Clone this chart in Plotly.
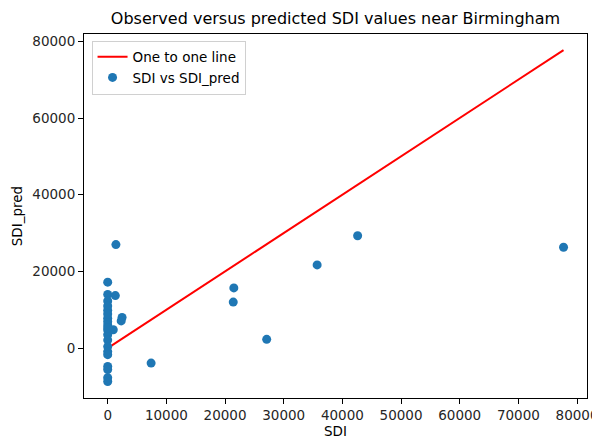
import plotly.graph_objects as go

# Observed SDI values
sdi = [1400, 0, 0, 1300, 0, 0, 0, 2450, 2300, 0, 0, 950, 0, 0, 0, 0, 0, 0,
       0, 0, 0, 0, 7400, 21500, 21400, 27100, 35700, 42600, 77700,
       0, 0, 0]
# Predicted SDI values
sdi_pred = [27000, 17200, 14000, 13700, 12300, 9900, 7800, 8000, 7100, 6900, 6000, 4800, 4700, 3500, 2100, 400, -900, -1700,
            -4800, -5600, -7700, -8700, -3900, 15700, 12000, 2300, 21700, 29300, 26300,
            11000, 8900, 5300]

line_x = [min(sdi), max(sdi)]
line_y = [min(sdi), max(sdi)]

x_ticks = [0, 10000, 20000, 30000, 40000, 50000, 60000, 70000, 80000]
y_ticks = [0, 20000, 40000, 60000, 80000]

FONT = "DejaVu Sans"
# The page body has an 8px default margin; size the figure to fit the 600x439 window
W, H = 592, 431
fig = go.Figure()
fig.add_trace(go.Scatter(x=line_x, y=line_y, mode="lines", name="One to one line",
                         line=dict(color="red", width=2)))
fig.add_trace(go.Scatter(x=sdi, y=sdi_pred, mode="markers", name="SDI vs SDI_pred",
                         marker=dict(color="#1f77b4", size=9)))

axis_common = dict(showgrid=False, zeroline=False, showline=True, linecolor="black",
                   linewidth=1, mirror=True, ticks="outside", ticklen=5, tickcolor="black",
                   tickformat="d", automargin=False,
                   tickfont=dict(family=FONT, size=13.5, color="#262626"))

fig.update_layout(
    width=W, height=H,
    margin=dict(l=76, r=13, t=26, b=41),
    paper_bgcolor="white", plot_bgcolor="white",
    title=dict(text="Observed versus predicted SDI values near Birmingham",
               x=(76 + 579) / 2 / W, xanchor="center", y=1 - 10 / H, yanchor="middle",
               font=dict(family=FONT, size=16, color="black")),
    xaxis=dict(range=[-4040, 81700], tickvals=x_ticks,
               title=dict(text="SDI", font=dict(family=FONT, size=13.5, color="black"), standoff=4),
               **axis_common),
    yaxis=dict(range=[-13000, 81900], tickvals=y_ticks,
               title=dict(text="SDI_pred", font=dict(family=FONT, size=13.5, color="black"), standoff=6),
               **axis_common),
    legend=dict(x=0.015, y=0.982, xanchor="left", yanchor="top",
                bordercolor="#d0d0d0", borderwidth=1, bgcolor="rgba(255,255,255,0.8)",
                font=dict(family=FONT, size=13.5, color="black"), tracegroupgap=0,
                itemwidth=30),
    showlegend=True,
)

fig.write_html("out.html")
